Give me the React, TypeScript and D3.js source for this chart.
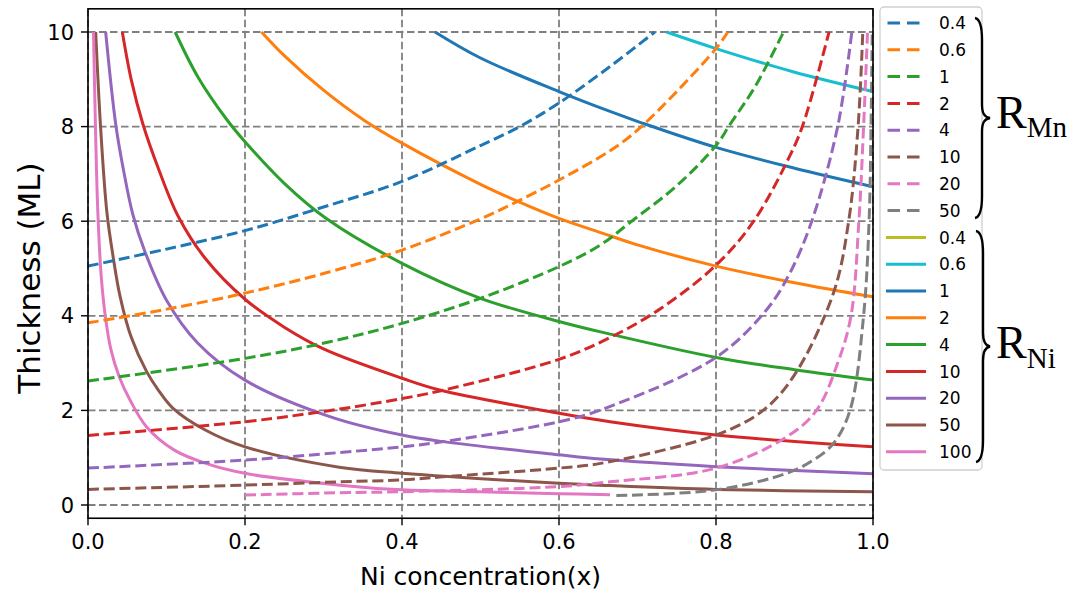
import React from 'react';
import * as d3 from 'd3';

type Pt = [number, number];

// Tick values
const xTicks = [0, 0.2, 0.4, 0.6, 0.8, 1.0];
const yTicks = [0, 2, 4, 6, 8, 10];

// Legend labels & colours
const rMnLabels = ['0.4', '0.6', '1', '2', '4', '10', '20', '50'];
const rNiLabels = ['0.4', '0.6', '1', '2', '4', '10', '20', '50', '100'];
const rMnColors = ['#1f77b4', '#ff7f0e', '#2ca02c', '#d62728', '#9467bd', '#8c564b', '#e377c2', '#7f7f7f'];
const rNiColors = ['#bcbd22', '#17becf', '#1f77b4', '#ff7f0e', '#2ca02c', '#d62728', '#9467bd', '#8c564b', '#e377c2'];

// R_Mn series (dashed), [x, thickness]
const mn_0_4: Pt[] = [[0, 5.05], [0.1, 5.41], [0.2, 5.8], [0.3, 6.3], [0.4, 6.84], [0.5, 7.6], [0.55, 8.0], [0.6, 8.5], [0.665, 9.27], [0.722, 10]];
const mn_0_6: Pt[] = [[0, 3.85], [0.094, 4.12], [0.2, 4.48], [0.308, 4.93], [0.4, 5.39], [0.5, 6.05], [0.546, 6.41], [0.6, 6.87], [0.666, 7.5], [0.705, 8.0], [0.8, 9.65], [0.815, 10]];
const mn_1: Pt[] = [[0, 2.62], [0.2, 3.1], [0.308, 3.45], [0.4, 3.84], [0.5, 4.37], [0.6, 5.04], [0.653, 5.5], [0.6925, 6.0], [0.75, 6.75], [0.8, 7.6], [0.818, 8.05], [0.85, 8.85], [0.886, 10]];
const mn_2: Pt[] = [[0, 1.47], [0.2, 1.76], [0.321, 2.03], [0.4, 2.25], [0.448, 2.41], [0.6, 3.08], [0.665, 3.54], [0.7265, 4.12], [0.8, 5.07], [0.848, 6.0], [0.894, 7.38], [0.911, 8.05], [0.944, 10]];
const mn_4: Pt[] = [[0, 0.78], [0.2, 0.95], [0.321, 1.11], [0.4, 1.23], [0.453, 1.34], [0.6, 1.76], [0.653, 2.01], [0.8, 3.12], [0.865, 4.14], [0.894, 4.9], [0.922, 6.0], [0.955, 8.0], [0.973, 10]];
const mn_10: Pt[] = [[0, 0.33], [0.2, 0.42], [0.321, 0.49], [0.4, 0.53], [0.448, 0.59], [0.6, 0.78], [0.653, 0.88], [0.8, 1.48], [0.86, 2.0], [0.9, 2.75], [0.95, 4.5], [0.969, 6.0], [0.981, 8.0], [0.987, 10]];
const mn_20: Pt[] = [[0.2, 0.21], [0.321, 0.26], [0.4, 0.28], [0.6, 0.39], [0.665, 0.49], [0.8, 0.78], [0.89, 1.44], [0.928, 2.0], [0.955, 3.0], [0.972, 4.0], [0.982, 6.0], [0.988, 8.0], [0.993, 10]];
const mn_50: Pt[] = [[0.673, 0.2], [0.8, 0.32], [0.89, 0.67], [0.924, 0.95], [0.9495, 1.3], [0.9707, 2.0], [0.988, 4.0], [0.995, 6.0], [0.9975, 8.0], [0.999, 10]];

// R_Ni series (solid), [x, thickness]
const ni_0_4: Pt[] = [];
const ni_0_6: Pt[] = [[0.737, 10], [0.8, 9.65], [0.898, 9.16], [1.0, 8.74]];
const ni_1: Pt[] = [[0.442, 10], [0.5, 9.45], [0.6, 8.74], [0.665, 8.32], [0.705, 8.08], [0.8, 7.56], [0.9, 7.12], [1.0, 6.73]];
const ni_2: Pt[] = [[0.221, 10], [0.25, 9.5], [0.3, 8.77], [0.353, 8.12], [0.4, 7.65], [0.5, 6.78], [0.546, 6.43], [0.6, 6.06], [0.653, 5.76], [0.7, 5.5], [0.8, 5.05], [0.9, 4.7], [1.0, 4.4]];
const ni_4: Pt[] = [[0.111, 10], [0.14, 9.05], [0.1767, 8.15], [0.2, 7.68], [0.25, 6.8], [0.304, 6.05], [0.4, 5.11], [0.5, 4.37], [0.6, 3.88], [0.653, 3.66], [0.8, 3.12], [0.9, 2.86], [1.0, 2.64]];
const ni_10: Pt[] = [[0.0437, 10], [0.055, 9.0], [0.07, 8.05], [0.09, 7.1], [0.115, 6.1], [0.15, 5.2], [0.2, 4.35], [0.25, 3.76], [0.3, 3.3], [0.4, 2.68], [0.448, 2.43], [0.6, 1.94], [0.665, 1.76], [0.8, 1.48], [1.0, 1.23]];
const ni_20: Pt[] = [[0.0225, 10], [0.0353, 8.05], [0.045, 7.1], [0.057, 6.15], [0.072, 5.38], [0.1, 4.33], [0.14, 3.42], [0.2, 2.64], [0.308, 1.87], [0.4, 1.48], [0.4527, 1.34], [0.6, 1.06], [0.653, 0.97], [0.8, 0.81], [1.0, 0.66]];
const ni_50: Pt[] = [[0.0098, 10], [0.016, 8.0], [0.024, 6.2], [0.032, 5.25], [0.041, 4.4], [0.055, 3.55], [0.0747, 2.82], [0.09, 2.42], [0.108, 2.05], [0.15, 1.58], [0.2, 1.23], [0.32, 0.8], [0.4, 0.67], [0.6, 0.46], [0.665, 0.41], [0.8, 0.33], [1.0, 0.28]];
const ni_100: Pt[] = [[0.007, 10], [0.0095, 8.0], [0.0125, 6.2], [0.017, 4.8], [0.022, 4.0], [0.029, 3.3], [0.04, 2.7], [0.0535, 2.22], [0.0747, 1.65], [0.11, 1.16], [0.15, 0.88], [0.2, 0.67], [0.321, 0.42], [0.4, 0.32], [0.5, 0.28], [0.6, 0.24], [0.665, 0.215]];

const mnSeries = [mn_0_4, mn_0_6, mn_1, mn_2, mn_4, mn_10, mn_20, mn_50];
const niSeries = [ni_0_4, ni_0_6, ni_1, ni_2, ni_4, ni_10, ni_20, ni_50, ni_100];

const W = 1076;
const H = 595;
const L = 88, R = 873;

export default function App() {
  const x = d3.scaleLinear().domain([0, 1]).range([L, R]);
  const y = d3.scaleLinear().domain([0, 10]).range([505, 32]);
  const T = y(10.49);
  const B = y(-0.28);
  const line = d3.line<Pt>().x(d => x(d[0])).y(d => y(d[1])).curve(d3.curveCatmullRom.alpha(0.5));

  const font = 'DejaVu Sans, sans-serif';
  const legendX = 880, legendY = 7, legendW = 102, legendH = 463;
  const rowY = (i: number) => 23 + i * 26.8;

  const brace = (x0: number, y0: number, y1: number, tipX: number) => {
    const ym = (y0 + y1) / 2;
    const xs = x0 + 7;
    return `M${x0},${y0} C${x0 + 5},${y0 + 1} ${xs},${y0 + 8} ${xs},${y0 + 22} L${xs},${ym - 14} C${xs},${ym - 5} ${xs + 2},${ym - 1} ${tipX},${ym} C${xs + 2},${ym + 1} ${xs},${ym + 5} ${xs},${ym + 14} L${xs},${y1 - 22} C${xs},${y1 - 8} ${x0 + 5},${y1 - 1} ${x0},${y1}`;
  };

  return (
    <svg width={W} height={H} style={{ position: 'absolute', left: 0, top: 0, background: '#fff' }}>
      <defs>
        <clipPath id="plot">
          <rect x={L} y={T} width={R - L} height={B - T} />
        </clipPath>
      </defs>
      <rect x={0} y={0} width={W} height={H} fill="#fff" />
      {/* grid */}
      <g stroke="#808080" strokeWidth={1.8} strokeDasharray="7.5,3.5">
        {xTicks.map(t => <line key={'gx' + t} x1={x(t)} x2={x(t)} y1={T} y2={B} />)}
        {yTicks.map(t => <line key={'gy' + t} x1={L} x2={R} y1={y(t)} y2={y(t)} />)}
      </g>
      {/* curves */}
      <g clipPath="url(#plot)" fill="none" strokeWidth={3}>
        {niSeries.map((s, i) => s.length > 1 ? (
          <path key={'ni' + i} d={line(s) || ''} stroke={rNiColors[i]} />
        ) : null)}
        {mnSeries.map((s, i) => (
          <path key={'mn' + i} d={line(s) || ''} stroke={rMnColors[i]} strokeDasharray="11,4.8" />
        ))}
      </g>
      {/* frame */}
      <rect x={L} y={T} width={R - L} height={B - T} fill="none" stroke="#000" strokeWidth={1.6} />
      {/* ticks */}
      <g stroke="#000" strokeWidth={1.4}>
        {xTicks.map(t => <line key={'tx' + t} x1={x(t)} x2={x(t)} y1={B} y2={B + 7} />)}
        {yTicks.map(t => <line key={'ty' + t} x1={L - 7} x2={L} y1={y(t)} y2={y(t)} />)}
      </g>
      <g fontFamily={font} fontSize={21} fill="#000">
        {xTicks.map(t => (
          <text key={'lx' + t} x={x(t)} y={B + 31} textAnchor="middle">{t.toFixed(1)}</text>
        ))}
        {yTicks.map(t => (
          <text key={'ly' + t} x={L - 14} y={y(t)} dy="0.36em" textAnchor="end">{t}</text>
        ))}
      </g>
      <text x={(L + R) / 2} y={585} textAnchor="middle" fontFamily={font} fontSize={25}>Ni concentration(x)</text>
      <text transform={`translate(40,${278}) rotate(-90)`} textAnchor="middle" fontFamily={font} fontSize={31}>Thickness (ML)</text>
      {/* legend */}
      <rect x={legendX} y={legendY} width={legendW} height={legendH} rx={4} fill="#fff" fillOpacity={0.8} stroke="#d0d0d0" strokeWidth={1.3} />
      {rMnLabels.map((lab, i) => (
        <g key={'lm' + i}>
          <line x1={887.5} x2={919.5} y1={rowY(i)} y2={rowY(i)} stroke={rMnColors[i]} strokeWidth={3} strokeDasharray="12.5,7" />
          <text x={939} y={rowY(i)} dy="0.36em" fontFamily={font} fontSize={17}>{lab}</text>
        </g>
      ))}
      {rNiLabels.map((lab, i) => (
        <g key={'ln' + i}>
          <line x1={886} x2={926} y1={rowY(i + 8)} y2={rowY(i + 8)} stroke={rNiColors[i]} strokeWidth={3} />
          <text x={939} y={rowY(i + 8)} dy="0.36em" fontFamily={font} fontSize={17}>{lab}</text>
        </g>
      ))}
      {/* braces */}
      <path d={brace(975, 18, 218, 990)} fill="none" stroke="#000" strokeWidth={2.4} />
      <path d={brace(976, 231, 462, 990)} fill="none" stroke="#000" strokeWidth={2.4} />
      <text x={996} y={128} fontFamily="Liberation Serif, serif" fontSize={46}>R<tspan fontSize={29} dy={9}>Mn</tspan></text>
      <text x={996} y={358} fontFamily="Liberation Serif, serif" fontSize={46}>R<tspan fontSize={29} dy={10}>Ni</tspan></text>
    </svg>
  );
}
